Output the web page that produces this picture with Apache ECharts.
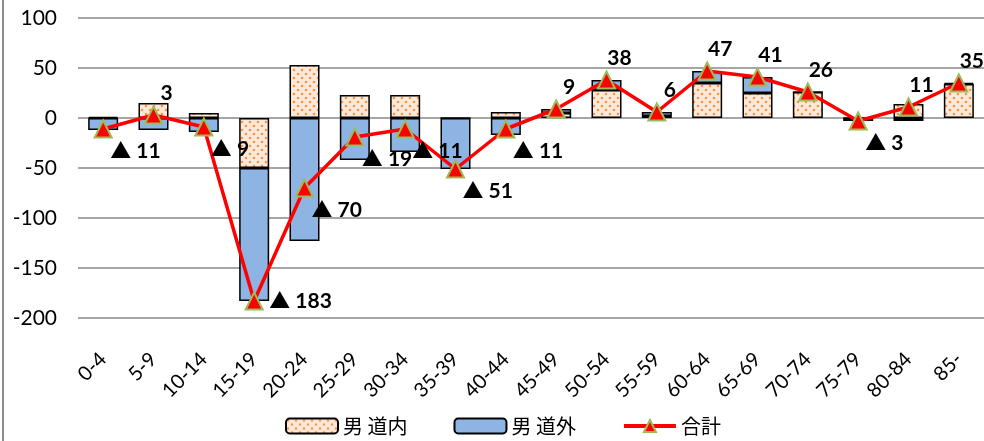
<!DOCTYPE html>
<html>
<head>
<meta charset="utf-8">
<script src="https://cdn.jsdelivr.net/npm/echarts@6/dist/echarts.min.js"></script>
<style>
html,body{margin:0;padding:0;background:#fff;}
#c{width:984px;height:441px;}
</style>
</head>
<body>
<div id="c"></div>
<script>
const categories = ['0-4','5-9','10-14','15-19','20-24','25-29','30-34','35-39','40-44','45-49','50-54','55-59','60-64','65-69','70-74','75-79','80-84','85-'];
const inside  = [1, 15, 5, -50, 53, 23, 23, 0, 6, 5, 28, 2, 35, 25, 26, 0, 14, 34];
const outside = [-12, -12, -14, -133, -123, -42, -34, -51, -17, 4, 10, 4, 12, 16, 0, -3, -3, 1];
const total   = [-11, 3, -9, -183, -70, -19, -11, -51, -11, 9, 38, 6, 47, 41, 26, -3, 11, 35];
const yTicks  = [-200, -150, -100, -50, 0, 50, 100];
const seriesNames = ['男 道内', '男 道外', '合計'];

function makePattern() {
  const cv = document.createElement('canvas');
  cv.width = 8; cv.height = 8;
  const ctx = cv.getContext('2d');
  ctx.fillStyle = '#fde9d9';
  ctx.fillRect(0, 0, 8, 8);
  ctx.fillStyle = '#f79646';
  ctx.beginPath(); ctx.arc(2, 2, 1.3, 0, Math.PI * 2); ctx.fill();
  ctx.beginPath(); ctx.arc(6, 6, 1.3, 0, Math.PI * 2); ctx.fill();
  return cv;
}

const minTotal = Math.min.apply(null, total);
const labelFont = 'Lato, "Noto Sans CJK JP", sans-serif';
const lineData = total.map(v => {
  let lab;
  if (v === minTotal) {
    lab = {position: 'inside', align: 'left', verticalAlign: 'middle', offset: [15, 0]};
  } else if (v < 0) {
    lab = {position: 'inside', align: 'left', verticalAlign: 'middle', offset: [7, 22]};
  } else {
    lab = {position: 'inside', align: 'center', verticalAlign: 'middle', offset: [13, -22]};
  }
  return {value: v, label: lab};
});

const chart = echarts.init(document.getElementById('c'), null, {renderer: 'canvas'});
chart.setOption({
  animation: false,
  backgroundColor: '#fff',
  textStyle: {fontFamily: labelFont},
  grid: {left: 78, right: -4, top: 18, bottom: 123},
  legend: {
    left: 280, top: 411,
    itemWidth: 52, itemHeight: 15, itemGap: 46,
    textStyle: {fontSize: 20, color: '#000', fontFamily: '"Noto Sans CJK JP", sans-serif'},
    data: [
      {name: seriesNames[0]},
      {name: seriesNames[1]},
      {name: seriesNames[2], lineStyle: {width: 4, color: '#ff0000'}}
    ]
  },
  graphic: [{
    type: 'line', shape: {x1: 3, y1: 0, x2: 3, y2: 441},
    style: {stroke: '#8c8c8c', lineWidth: 2}
  }],
  xAxis: {
    type: 'category',
    data: categories,
    axisLine: {show: false, onZero: false},
    axisTick: {show: false},
    axisLabel: {rotate: 45, fontSize: 20, color: '#000', margin: 38, interval: 0, fontFamily: labelFont}
  },
  yAxis: {
    type: 'value',
    min: yTicks[0], max: yTicks[yTicks.length - 1], interval: 50,
    axisLine: {show: false},
    axisTick: {show: false},
    axisLabel: {fontSize: 21, color: '#000', margin: 21, fontFamily: labelFont},
    splitLine: {lineStyle: {color: '#a6a6a6', width: 2}}
  },
  series: [
    {
      name: seriesNames[0], type: 'bar', stack: 'm', barWidth: 30,
      itemStyle: {color: {image: makePattern(), repeat: 'repeat'}, borderColor: '#000', borderWidth: 1.5},
      data: inside
    },
    {
      name: seriesNames[1], type: 'bar', stack: 'm', barWidth: 30,
      itemStyle: {color: '#8db4e2', borderColor: '#000', borderWidth: 1.5},
      data: outside
    },
    {
      name: seriesNames[2], type: 'line',
      symbol: 'triangle', symbolSize: 17,
      itemStyle: {color: '#ff0000', borderColor: '#9bbb59', borderWidth: 2},
      lineStyle: {color: '#ff0000', width: 3.5},
      z: 5,
      label: {
        show: true, fontSize: 21, fontWeight: 'bold', color: '#000', fontFamily: labelFont,
        formatter: p => p.value < 0 ? '▲ ' + (-p.value) : String(p.value)
      },
      data: lineData
    }
  ]
});
</script>
</body>
</html>
